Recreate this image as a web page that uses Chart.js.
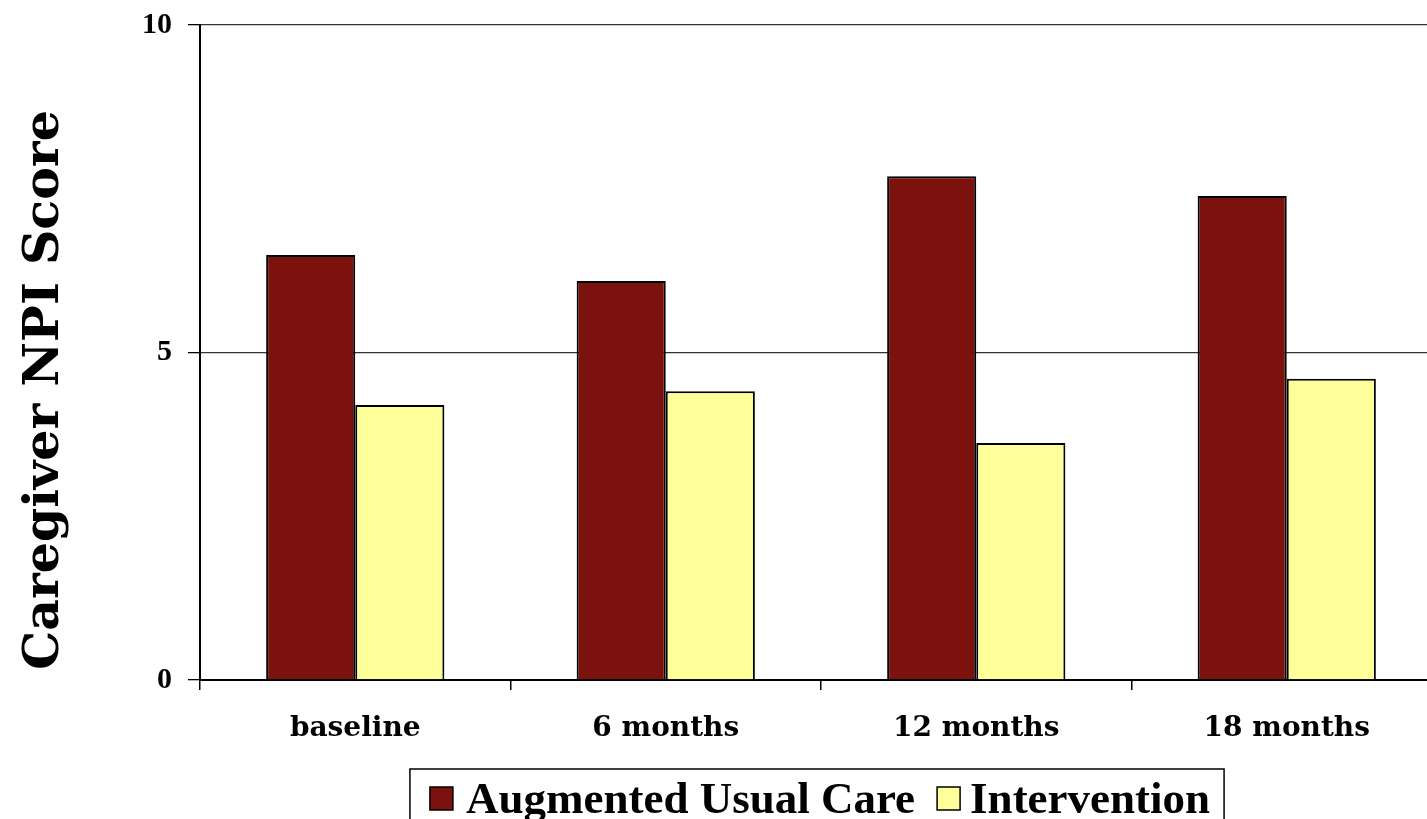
<!DOCTYPE html>
<html>
<head>
<meta charset="utf-8">
<script src="https://cdn.jsdelivr.net/npm/chart.js@4.4.0/dist/chart.umd.min.js"></script>
<style>
  html, body { margin: 0; padding: 0; background: #fff; overflow: hidden; }
  canvas { display: block; }
</style>
</head>
<body>
<canvas id="npi" width="1442" height="819"></canvas>
<script>
// data
var categories = ["baseline", "6 months", "12 months", "18 months"];
var usualCare = [6.49, 6.09, 7.69, 7.39];
var intervention = [4.20, 4.41, 3.62, 4.60];
var seriesNames = ["Augmented Usual Care", "Intervention"];
var yTitle = "Caregiver NPI Score";

var serif = '"DejaVu Serif", serif';
var legendFont = '"Liberation Serif", "Times New Roman", serif';

// y title + boxed legend, drawn by hand
var extras = {
  id: "extras",
  afterDraw: function(chart) {
    var ctx = chart.ctx;
    var area = chart.chartArea;

    ctx.save();
    ctx.translate(45, area.bottom - 290);
    ctx.rotate(-Math.PI / 2);
    ctx.font = "bold 49px " + serif;
    ctx.fillStyle = "#000";
    ctx.textAlign = "center";
    ctx.textBaseline = "middle";
    ctx.fillText(yTitle, 0, 0);
    ctx.restore();

    ctx.save();
    ctx.font = "bold 45px " + legendFont;
    var ds = chart.data.datasets;
    var t1 = ctx.measureText(ds[0].label).width;
    var t2 = ctx.measureText(ds[1].label).width;
    var box = 23;
    var w = 20 + box + 13 + t1 + 22 + box + 10 + t2 + 14;
    var left = (area.left + area.right) / 2 - 4 - w / 2;
    var top = area.bottom + 89;
    ctx.strokeStyle = "#000";
    ctx.lineWidth = 1.5;
    ctx.strokeRect(left, top, w, 80);

    var x = left + 20;
    var boxTop = top + 18;
    var base = top + 44;
    ctx.textBaseline = "alphabetic";
    ctx.textAlign = "left";
    for (var i = 0; i < 2; i++) {
      ctx.fillStyle = ds[i].backgroundColor;
      ctx.fillRect(x, boxTop, box, box);
      ctx.lineWidth = 1.5;
      ctx.strokeRect(x, boxTop, box, box);
      x += box + (i === 0 ? 13 : 10);
      ctx.fillStyle = "#000";
      ctx.fillText(ds[i].label, x, base);
      x += (i === 0 ? t1 : t2) + 22;
    }
    ctx.restore();
  }
};

new Chart(document.getElementById("npi"), {
  type: "bar",
  data: {
    labels: categories,
    datasets: [
      {
        label: seriesNames[0],
        data: usualCare,
        backgroundColor: "#7B120D",
        borderColor: "#000",
        borderWidth: 2,
        categoryPercentage: 0.574,
        barPercentage: 1
      },
      {
        label: seriesNames[1],
        data: intervention,
        backgroundColor: "#FFFF99",
        borderColor: "#000",
        borderWidth: 2,
        categoryPercentage: 0.574,
        barPercentage: 1
      }
    ]
  },
  options: {
    responsive: false,
    animation: false,
    layout: { padding: { top: 25, left: 0, right: 0, bottom: 79 } },
    plugins: {
      legend: { display: false },
      tooltip: { enabled: false }
    },
    scales: {
      x: {
        afterFit: function(s) { s.height = 60; s.paddingLeft = 0; s.paddingRight = 0; },
        grid: {
          drawOnChartArea: false,
          drawTicks: true,
          tickLength: 10,
          color: "#000",
          lineWidth: 1.5
        },
        border: { color: "#000", width: 2 },
        ticks: {
          color: "#000",
          padding: 22,
          font: { family: serif, size: 28, weight: "bold" }
        }
      },
      y: {
        min: 0,
        max: 10,
        afterFit: function(s) { s.width = 200; s.paddingTop = 0; s.paddingBottom = 0; },
        grid: {
          color: "#333",
          lineWidth: 1.3,
          tickLength: 12,
          tickColor: "#000"
        },
        border: { color: "#000", width: 2 },
        ticks: {
          stepSize: 5,
          color: "#000",
          padding: 16,
          font: { family: legendFont, size: 30, weight: "bold" }
        }
      }
    }
  },
  plugins: [extras]
});
</script>
</body>
</html>
